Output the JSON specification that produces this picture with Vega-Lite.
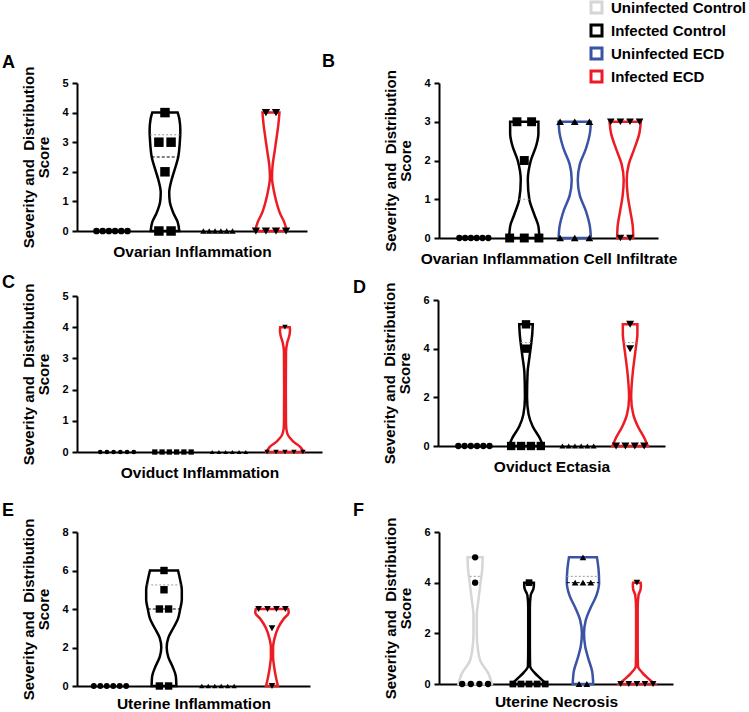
{
"$schema": "https://vega.github.io/schema/vega-lite/v6.json",
"background": "white",
"padding": {"left": 2, "top": 0, "right": 0, "bottom": 0},
"datasets": {
"pts": [
{"p":"A","g":"UC","v":0},{"p":"A","g":"UC","v":0},{"p":"A","g":"UC","v":0},{"p":"A","g":"UC","v":0},{"p":"A","g":"UC","v":0},{"p":"A","g":"UC","v":0},
{"p":"A","g":"IC","v":4},{"p":"A","g":"IC","v":3},{"p":"A","g":"IC","v":3},{"p":"A","g":"IC","v":2},{"p":"A","g":"IC","v":0},{"p":"A","g":"IC","v":0},
{"p":"A","g":"UE","v":0},{"p":"A","g":"UE","v":0},{"p":"A","g":"UE","v":0},{"p":"A","g":"UE","v":0},{"p":"A","g":"UE","v":0},{"p":"A","g":"UE","v":0},
{"p":"A","g":"IE","v":4},{"p":"A","g":"IE","v":4},{"p":"A","g":"IE","v":0},{"p":"A","g":"IE","v":0},{"p":"A","g":"IE","v":0},{"p":"A","g":"IE","v":0},
{"p":"B","g":"UC","v":0},{"p":"B","g":"UC","v":0},{"p":"B","g":"UC","v":0},{"p":"B","g":"UC","v":0},{"p":"B","g":"UC","v":0},{"p":"B","g":"UC","v":0},
{"p":"B","g":"IC","v":3},{"p":"B","g":"IC","v":3},{"p":"B","g":"IC","v":2},{"p":"B","g":"IC","v":0},{"p":"B","g":"IC","v":0},{"p":"B","g":"IC","v":0},
{"p":"B","g":"UE","v":3},{"p":"B","g":"UE","v":3},{"p":"B","g":"UE","v":3},{"p":"B","g":"UE","v":0},{"p":"B","g":"UE","v":0},{"p":"B","g":"UE","v":0},
{"p":"B","g":"IE","v":3},{"p":"B","g":"IE","v":3},{"p":"B","g":"IE","v":3},{"p":"B","g":"IE","v":3},{"p":"B","g":"IE","v":0},{"p":"B","g":"IE","v":0},
{"p":"C","g":"UC","v":0},{"p":"C","g":"UC","v":0},{"p":"C","g":"UC","v":0},{"p":"C","g":"UC","v":0},{"p":"C","g":"UC","v":0},{"p":"C","g":"UC","v":0},
{"p":"C","g":"IC","v":0},{"p":"C","g":"IC","v":0},{"p":"C","g":"IC","v":0},{"p":"C","g":"IC","v":0},{"p":"C","g":"IC","v":0},{"p":"C","g":"IC","v":0},
{"p":"C","g":"UE","v":0},{"p":"C","g":"UE","v":0},{"p":"C","g":"UE","v":0},{"p":"C","g":"UE","v":0},{"p":"C","g":"UE","v":0},{"p":"C","g":"UE","v":0},
{"p":"C","g":"IE","v":4},{"p":"C","g":"IE","v":0},{"p":"C","g":"IE","v":0},{"p":"C","g":"IE","v":0},{"p":"C","g":"IE","v":0},{"p":"C","g":"IE","v":0},
{"p":"D","g":"UC","v":0},{"p":"D","g":"UC","v":0},{"p":"D","g":"UC","v":0},{"p":"D","g":"UC","v":0},{"p":"D","g":"UC","v":0},{"p":"D","g":"UC","v":0},
{"p":"D","g":"IC","v":5},{"p":"D","g":"IC","v":4},{"p":"D","g":"IC","v":0},{"p":"D","g":"IC","v":0},{"p":"D","g":"IC","v":0},{"p":"D","g":"IC","v":0},
{"p":"D","g":"UE","v":0},{"p":"D","g":"UE","v":0},{"p":"D","g":"UE","v":0},{"p":"D","g":"UE","v":0},{"p":"D","g":"UE","v":0},{"p":"D","g":"UE","v":0},
{"p":"D","g":"IE","v":5},{"p":"D","g":"IE","v":4},{"p":"D","g":"IE","v":0},{"p":"D","g":"IE","v":0},{"p":"D","g":"IE","v":0},{"p":"D","g":"IE","v":0},
{"p":"E","g":"UC","v":0},{"p":"E","g":"UC","v":0},{"p":"E","g":"UC","v":0},{"p":"E","g":"UC","v":0},{"p":"E","g":"UC","v":0},{"p":"E","g":"UC","v":0},
{"p":"E","g":"IC","v":6},{"p":"E","g":"IC","v":5},{"p":"E","g":"IC","v":4},{"p":"E","g":"IC","v":4},{"p":"E","g":"IC","v":0},{"p":"E","g":"IC","v":0},
{"p":"E","g":"UE","v":0},{"p":"E","g":"UE","v":0},{"p":"E","g":"UE","v":0},{"p":"E","g":"UE","v":0},{"p":"E","g":"UE","v":0},{"p":"E","g":"UE","v":0},
{"p":"E","g":"IE","v":4},{"p":"E","g":"IE","v":4},{"p":"E","g":"IE","v":4},{"p":"E","g":"IE","v":4},{"p":"E","g":"IE","v":3},{"p":"E","g":"IE","v":0},
{"p":"F","g":"UC","v":5},{"p":"F","g":"UC","v":4},{"p":"F","g":"UC","v":0},{"p":"F","g":"UC","v":0},{"p":"F","g":"UC","v":0},{"p":"F","g":"UC","v":0},
{"p":"F","g":"IC","v":4},{"p":"F","g":"IC","v":0},{"p":"F","g":"IC","v":0},{"p":"F","g":"IC","v":0},{"p":"F","g":"IC","v":0},{"p":"F","g":"IC","v":0},
{"p":"F","g":"UE","v":5},{"p":"F","g":"UE","v":4},{"p":"F","g":"UE","v":4},{"p":"F","g":"UE","v":4},{"p":"F","g":"UE","v":0},{"p":"F","g":"UE","v":0},
{"p":"F","g":"IE","v":4},{"p":"F","g":"IE","v":0},{"p":"F","g":"IE","v":0},{"p":"F","g":"IE","v":0},{"p":"F","g":"IE","v":0},{"p":"F","g":"IE","v":0}
],
"vio": [
{"p":"A","g":"IC","v":0,"w":0.27},{"p":"A","g":"IC","v":0.3,"w":0.24},{"p":"A","g":"IC","v":0.6,"w":0.16},{"p":"A","g":"IC","v":1,"w":0.09},{"p":"A","g":"IC","v":1.3,"w":0.08},{"p":"A","g":"IC","v":1.7,"w":0.12},{"p":"A","g":"IC","v":2,"w":0.17},{"p":"A","g":"IC","v":2.5,"w":0.25},{"p":"A","g":"IC","v":3,"w":0.28},{"p":"A","g":"IC","v":3.4,"w":0.29},{"p":"A","g":"IC","v":3.8,"w":0.27},{"p":"A","g":"IC","v":4,"w":0.24},
{"p":"A","g":"IE","v":0,"w":0.30},{"p":"A","g":"IE","v":0.3,"w":0.25},{"p":"A","g":"IE","v":0.6,"w":0.17},{"p":"A","g":"IE","v":1,"w":0.10},{"p":"A","g":"IE","v":1.4,"w":0.05},{"p":"A","g":"IE","v":1.8,"w":0.02},{"p":"A","g":"IE","v":2.2,"w":0.03},{"p":"A","g":"IE","v":2.7,"w":0.07},{"p":"A","g":"IE","v":3.2,"w":0.11},{"p":"A","g":"IE","v":3.6,"w":0.14},{"p":"A","g":"IE","v":4,"w":0.16},
{"p":"B","g":"IC","v":0,"w":0.30},{"p":"B","g":"IC","v":0.3,"w":0.28},{"p":"B","g":"IC","v":0.6,"w":0.2},{"p":"B","g":"IC","v":1,"w":0.1},{"p":"B","g":"IC","v":1.5,"w":0.07},{"p":"B","g":"IC","v":2,"w":0.13},{"p":"B","g":"IC","v":2.4,"w":0.24},{"p":"B","g":"IC","v":2.7,"w":0.28},{"p":"B","g":"IC","v":3,"w":0.28},
{"p":"B","g":"UE","v":0,"w":0.32},{"p":"B","g":"UE","v":0.3,"w":0.3},{"p":"B","g":"UE","v":0.7,"w":0.22},{"p":"B","g":"UE","v":1.1,"w":0.1},{"p":"B","g":"UE","v":1.5,"w":0.06},{"p":"B","g":"UE","v":1.9,"w":0.1},{"p":"B","g":"UE","v":2.3,"w":0.22},{"p":"B","g":"UE","v":2.7,"w":0.3},{"p":"B","g":"UE","v":3,"w":0.32},
{"p":"B","g":"IE","v":0,"w":0.16},{"p":"B","g":"IE","v":0.3,"w":0.15},{"p":"B","g":"IE","v":0.7,"w":0.1},{"p":"B","g":"IE","v":1.1,"w":0.05},{"p":"B","g":"IE","v":1.5,"w":0.03},{"p":"B","g":"IE","v":1.9,"w":0.07},{"p":"B","g":"IE","v":2.3,"w":0.18},{"p":"B","g":"IE","v":2.7,"w":0.28},{"p":"B","g":"IE","v":3,"w":0.31},
{"p":"C","g":"IE","v":0,"w":0.33},{"p":"C","g":"IE","v":0.15,"w":0.28},{"p":"C","g":"IE","v":0.35,"w":0.14},{"p":"C","g":"IE","v":0.6,"w":0.04},{"p":"C","g":"IE","v":0.9,"w":0.018},{"p":"C","g":"IE","v":2,"w":0.015},{"p":"C","g":"IE","v":3.2,"w":0.018},{"p":"C","g":"IE","v":3.5,"w":0.04},{"p":"C","g":"IE","v":3.75,"w":0.08},{"p":"C","g":"IE","v":3.9,"w":0.09},{"p":"C","g":"IE","v":4,"w":0.085},
{"p":"D","g":"IC","v":0,"w":0.33},{"p":"D","g":"IC","v":0.3,"w":0.27},{"p":"D","g":"IC","v":0.8,"w":0.13},{"p":"D","g":"IC","v":1.3,"w":0.05},{"p":"D","g":"IC","v":2,"w":0.02},{"p":"D","g":"IC","v":3,"w":0.03},{"p":"D","g":"IC","v":3.7,"w":0.07},{"p":"D","g":"IC","v":4.2,"w":0.1},{"p":"D","g":"IC","v":4.6,"w":0.12},{"p":"D","g":"IC","v":5,"w":0.13},
{"p":"D","g":"IE","v":0,"w":0.34},{"p":"D","g":"IE","v":0.3,"w":0.28},{"p":"D","g":"IE","v":0.8,"w":0.15},{"p":"D","g":"IE","v":1.3,"w":0.06},{"p":"D","g":"IE","v":2,"w":0.02},{"p":"D","g":"IE","v":3,"w":0.05},{"p":"D","g":"IE","v":3.7,"w":0.09},{"p":"D","g":"IE","v":4.2,"w":0.12},{"p":"D","g":"IE","v":4.6,"w":0.14},{"p":"D","g":"IE","v":5,"w":0.14},
{"p":"E","g":"IC","v":0,"w":0.23},{"p":"E","g":"IC","v":0.5,"w":0.22},{"p":"E","g":"IC","v":1,"w":0.16},{"p":"E","g":"IC","v":1.5,"w":0.08},{"p":"E","g":"IC","v":2,"w":0.05},{"p":"E","g":"IC","v":2.5,"w":0.08},{"p":"E","g":"IC","v":3,"w":0.17},{"p":"E","g":"IC","v":3.5,"w":0.26},{"p":"E","g":"IC","v":4,"w":0.3},{"p":"E","g":"IC","v":4.5,"w":0.33},{"p":"E","g":"IC","v":5,"w":0.33},{"p":"E","g":"IC","v":5.5,"w":0.3},{"p":"E","g":"IC","v":6,"w":0.26},
{"p":"E","g":"IE","v":0,"w":0.11},{"p":"E","g":"IE","v":0.5,"w":0.07},{"p":"E","g":"IE","v":1,"w":0.04},{"p":"E","g":"IE","v":1.5,"w":0.02},{"p":"E","g":"IE","v":2,"w":0.02},{"p":"E","g":"IE","v":2.5,"w":0.05},{"p":"E","g":"IE","v":3,"w":0.11},{"p":"E","g":"IE","v":3.5,"w":0.22},{"p":"E","g":"IE","v":3.8,"w":0.31},{"p":"E","g":"IE","v":4,"w":0.30},
{"p":"F","g":"UC","v":0,"w":0.31},{"p":"F","g":"UC","v":0.4,"w":0.25},{"p":"F","g":"UC","v":0.9,"w":0.1},{"p":"F","g":"UC","v":1.4,"w":0.05},{"p":"F","g":"UC","v":2,"w":0.03},{"p":"F","g":"UC","v":2.7,"w":0.03},{"p":"F","g":"UC","v":3.3,"w":0.06},{"p":"F","g":"UC","v":4,"w":0.1},{"p":"F","g":"UC","v":4.5,"w":0.13},{"p":"F","g":"UC","v":5,"w":0.14},
{"p":"F","g":"IC","v":0,"w":0.32},{"p":"F","g":"IC","v":0.2,"w":0.22},{"p":"F","g":"IC","v":0.45,"w":0.1},{"p":"F","g":"IC","v":0.7,"w":0.02},{"p":"F","g":"IC","v":1.5,"w":0.015},{"p":"F","g":"IC","v":3,"w":0.015},{"p":"F","g":"IC","v":3.5,"w":0.03},{"p":"F","g":"IC","v":3.75,"w":0.08},{"p":"F","g":"IC","v":3.9,"w":0.09},{"p":"F","g":"IC","v":4,"w":0.09},
{"p":"F","g":"UE","v":0,"w":0.19},{"p":"F","g":"UE","v":0.5,"w":0.17},{"p":"F","g":"UE","v":1,"w":0.1},{"p":"F","g":"UE","v":1.5,"w":0.04},{"p":"F","g":"UE","v":2,"w":0.02},{"p":"F","g":"UE","v":2.5,"w":0.05},{"p":"F","g":"UE","v":3,"w":0.14},{"p":"F","g":"UE","v":3.5,"w":0.25},{"p":"F","g":"UE","v":4,"w":0.3},{"p":"F","g":"UE","v":4.5,"w":0.29},{"p":"F","g":"UE","v":5,"w":0.26},
{"p":"F","g":"IE","v":0,"w":0.33},{"p":"F","g":"IE","v":0.2,"w":0.22},{"p":"F","g":"IE","v":0.45,"w":0.1},{"p":"F","g":"IE","v":0.7,"w":0.02},{"p":"F","g":"IE","v":1.5,"w":0.015},{"p":"F","g":"IE","v":3,"w":0.015},{"p":"F","g":"IE","v":3.5,"w":0.03},{"p":"F","g":"IE","v":3.75,"w":0.07},{"p":"F","g":"IE","v":3.9,"w":0.075},{"p":"F","g":"IE","v":4,"w":0.07}
],
"med": [
{"p":"A","g":"IC","v":2.5,"w":0.25,"k":"med"},{"p":"A","g":"IC","v":3.25,"w":0.28,"k":"q"},
{"p":"B","g":"IC","v":1,"w":0.1,"k":"q"},
{"p":"D","g":"IC","v":4.25,"w":0.1,"k":"q"},{"p":"D","g":"IE","v":4.25,"w":0.12,"k":"q"},
{"p":"E","g":"IC","v":4,"w":0.3,"k":"med"},{"p":"E","g":"IC","v":5.25,"w":0.31,"k":"q"},
{"p":"F","g":"UC","v":4.25,"w":0.1,"k":"q"},{"p":"F","g":"UE","v":4,"w":0.3,"k":"med"},{"p":"F","g":"UE","v":4.25,"w":0.3,"k":"q"}
]
},
"vconcat": [
{"vconcat": [
{"hconcat": [
{"width": 230, "height": 148,
 "encoding": {
  "x": {"field": "xl", "type": "quantitative", "scale": {"domain": [0.34, 4.68], "nice": false, "zero": false}, "axis": {"title": "Ovarian Inflammation"}},
  "y": {"field": "v", "type": "quantitative", "scale": {"domain": [0, 5], "nice": false}, "axis": {"values": [0,1,2,3,4,5], "title": ["Severity and\u00a0 Distribution", "Score"]}}},
 "layer": [
  {"data": {"name": "vio"}, "transform": [{"filter": "datum.p=='A'"}, {"calculate": "indexof(['UC','IC','UE','IE'],datum.g)+1-datum.w", "as": "xl"}, {"calculate": "datum.xl+2*datum.w", "as": "xr"}],
   "mark": {"type": "area", "orient": "horizontal", "filled": false, "strokeWidth": 2.5, "interpolate": "monotone"},
   "encoding": {"x2": {"field": "xr"}, "color": {"field": "g", "type": "nominal", "title": null, "scale": {"domain": ["UC","IC","UE","IE"], "range": ["#d6d6d6","#000000","#3a53a4","#ed1c24"]}, "legend": {"symbolType": "square", "labelExpr": "datum.label=='UC'?'Uninfected Control':datum.label=='IC'?'Infected Control':datum.label=='UE'?'Uninfected ECD':'Infected ECD'"}}}},
  {"data": {"name": "med"}, "transform": [{"filter": "datum.p=='A' && datum.k=='med'"}, {"calculate": "indexof(['UC','IC','UE','IE'],datum.g)+1-datum.w", "as": "xl"}, {"calculate": "datum.xl+2*datum.w", "as": "xr"}],
   "mark": {"type": "rule", "color": "black", "strokeWidth": 1, "strokeDash": [3, 2]}, "encoding": {"x2": {"field": "xr"}}},
  {"data": {"name": "med"}, "transform": [{"filter": "datum.p=='A' && datum.k=='q'"}, {"calculate": "indexof(['UC','IC','UE','IE'],datum.g)+1-datum.w", "as": "xl"}, {"calculate": "datum.xl+2*datum.w", "as": "xr"}],
   "mark": {"type": "rule", "color": "#999999", "strokeWidth": 1, "strokeDash": [2, 2]}, "encoding": {"x2": {"field": "xr"}}},
  {"data": {"name": "pts"}, "transform": [{"filter": "datum.p=='A'"}, {"calculate": "indexof(['UC','IC','UE','IE'],datum.g)+1", "as": "gi"}, {"calculate": "['circle','square','triangle-up','triangle-down'][datum.gi-1]", "as": "sh"}, {"calculate": "[45,90,40,70][datum.gi-1]", "as": "sz"}, {"window": [{"op": "row_number", "as": "rn"}], "groupby": ["g","v"]}, {"joinaggregate": [{"op": "count", "as": "n"}], "groupby": ["g","v"]}, {"calculate": "datum.gi+(datum.rn-(datum.n+1)/2)*[0.117,0.23,0.11,0.19][datum.gi-1]", "as": "xl"}],
   "mark": {"type": "point", "filled": true, "color": "black", "opacity": 1},
   "encoding": {"shape": {"field": "sh", "type": "nominal", "scale": null}, "size": {"field": "sz", "type": "quantitative", "scale": null}}},
  {"data": {"values": [{"lab": "A"}]}, "transform": [{"calculate": "0.34", "as": "xl"}, {"calculate": "5", "as": "v"}],
   "mark": {"type": "text", "align": "left", "baseline": "alphabetic", "dx": -75, "dy": -15, "fontSize": 18, "fontWeight": "bold", "color": "black"},
   "encoding": {"text": {"field": "lab"}}}
 ]},
{"width": 219, "height": 155,
 "encoding": {
  "x": {"field": "xl", "type": "quantitative", "scale": {"domain": [0.31, 4.65], "nice": false, "zero": false}, "axis": {"title": "Ovarian Inflammation Cell Infiltrate"}},
  "y": {"field": "v", "type": "quantitative", "scale": {"domain": [0, 4], "nice": false}, "axis": {"values": [0,1,2,3,4], "title": ["Severity and\u00a0 Distribution", "Score"]}}},
 "layer": [
  {"data": {"name": "vio"}, "transform": [{"filter": "datum.p=='B'"}, {"calculate": "indexof(['UC','IC','UE','IE'],datum.g)+1-datum.w", "as": "xl"}, {"calculate": "datum.xl+2*datum.w", "as": "xr"}],
   "mark": {"type": "area", "orient": "horizontal", "filled": false, "strokeWidth": 2.5, "interpolate": "monotone"},
   "encoding": {"x2": {"field": "xr"}, "color": {"field": "g", "type": "nominal", "title": null, "scale": {"domain": ["UC","IC","UE","IE"], "range": ["#d6d6d6","#000000","#3a53a4","#ed1c24"]}, "legend": {"symbolType": "square", "labelExpr": "datum.label=='UC'?'Uninfected Control':datum.label=='IC'?'Infected Control':datum.label=='UE'?'Uninfected ECD':'Infected ECD'"}}}},
  {"data": {"name": "med"}, "transform": [{"filter": "datum.p=='B' && datum.k=='q'"}, {"calculate": "indexof(['UC','IC','UE','IE'],datum.g)+1-datum.w", "as": "xl"}, {"calculate": "datum.xl+2*datum.w", "as": "xr"}],
   "mark": {"type": "rule", "color": "#999999", "strokeWidth": 1, "strokeDash": [2, 2]}, "encoding": {"x2": {"field": "xr"}}},
  {"data": {"name": "pts"}, "transform": [{"filter": "datum.p=='B'"}, {"calculate": "indexof(['UC','IC','UE','IE'],datum.g)+1", "as": "gi"}, {"calculate": "['circle','square','triangle-up','triangle-down'][datum.gi-1]", "as": "sh"}, {"calculate": "[40,80,60,60][datum.gi-1]", "as": "sz"}, {"window": [{"op": "row_number", "as": "rn"}], "groupby": ["g","v"]}, {"joinaggregate": [{"op": "count", "as": "n"}], "groupby": ["g","v"]}, {"calculate": "datum.gi+(datum.rn-(datum.n+1)/2)*[0.115,0.29,0.29,0.19][datum.gi-1]", "as": "xl"}],
   "mark": {"type": "point", "filled": true, "color": "black", "opacity": 1},
   "encoding": {"shape": {"field": "sh", "type": "nominal", "scale": null}, "size": {"field": "sz", "type": "quantitative", "scale": null}}},
  {"data": {"values": [{"lab": "B"}]}, "transform": [{"calculate": "0.31", "as": "xl"}, {"calculate": "4", "as": "v"}],
   "mark": {"type": "text", "align": "left", "baseline": "alphabetic", "dx": -117, "dy": -16, "fontSize": 18, "fontWeight": "bold", "color": "black"},
   "encoding": {"text": {"field": "lab"}}}
 ]}
], "spacing": 132, "bounds": "flush"},
{"hconcat": [
{"width": 245, "height": 156,
 "encoding": {
  "x": {"field": "xl", "type": "quantitative", "scale": {"domain": [0.286, 4.661], "nice": false, "zero": false}, "axis": {"title": "Oviduct Inflammation"}},
  "y": {"field": "v", "type": "quantitative", "scale": {"domain": [0, 5], "nice": false}, "axis": {"values": [0,1,2,3,4,5], "title": ["Severity and\u00a0 Distribution", "Score"]}}},
 "layer": [
  {"data": {"name": "vio"}, "transform": [{"filter": "datum.p=='C'"}, {"calculate": "indexof(['UC','IC','UE','IE'],datum.g)+1-datum.w", "as": "xl"}, {"calculate": "datum.xl+2*datum.w", "as": "xr"}],
   "mark": {"type": "area", "orient": "horizontal", "filled": false, "strokeWidth": 2.5, "interpolate": "monotone"},
   "encoding": {"x2": {"field": "xr"}, "color": {"field": "g", "type": "nominal", "title": null, "scale": {"domain": ["UC","IC","UE","IE"], "range": ["#d6d6d6","#000000","#3a53a4","#ed1c24"]}, "legend": {"symbolType": "square", "labelExpr": "datum.label=='UC'?'Uninfected Control':datum.label=='IC'?'Infected Control':datum.label=='UE'?'Uninfected ECD':'Infected ECD'"}}}},
  {"data": {"name": "pts"}, "transform": [{"filter": "datum.p=='C'"}, {"calculate": "indexof(['UC','IC','UE','IE'],datum.g)+1", "as": "gi"}, {"calculate": "['circle','square','triangle-up','triangle-down'][datum.gi-1]", "as": "sh"}, {"calculate": "[22,28,22,30][datum.gi-1]", "as": "sz"}, {"window": [{"op": "row_number", "as": "rn"}], "groupby": ["g","v"]}, {"joinaggregate": [{"op": "count", "as": "n"}], "groupby": ["g","v"]}, {"calculate": "datum.gi+(datum.rn-(datum.n+1)/2)*[0.12,0.13,0.12,0.16][datum.gi-1]", "as": "xl"}],
   "mark": {"type": "point", "filled": true, "color": "black", "opacity": 1},
   "encoding": {"shape": {"field": "sh", "type": "nominal", "scale": null}, "size": {"field": "sz", "type": "quantitative", "scale": null}}},
  {"data": {"values": [{"lab": "C"}]}, "transform": [{"calculate": "0.286", "as": "xl"}, {"calculate": "5", "as": "v"}],
   "mark": {"type": "text", "align": "left", "baseline": "alphabetic", "dx": -75, "dy": -8, "fontSize": 18, "fontWeight": "bold", "color": "black"},
   "encoding": {"text": {"field": "lab"}}}
 ]},
{"width": 227, "height": 150,
 "encoding": {
  "x": {"field": "xl", "type": "quantitative", "scale": {"domain": [0.31, 4.67], "nice": false, "zero": false}, "axis": {"title": "Oviduct Ectasia"}},
  "y": {"field": "v", "type": "quantitative", "scale": {"domain": [0, 6], "nice": false, "range": [150, 4]}, "axis": {"values": [0,2,4,6], "title": ["Severity and\u00a0 Distribution", "Score"]}}},
 "layer": [
  {"data": {"name": "vio"}, "transform": [{"filter": "datum.p=='D'"}, {"calculate": "indexof(['UC','IC','UE','IE'],datum.g)+1-datum.w", "as": "xl"}, {"calculate": "datum.xl+2*datum.w", "as": "xr"}],
   "mark": {"type": "area", "orient": "horizontal", "filled": false, "strokeWidth": 2.5, "interpolate": "monotone"},
   "encoding": {"x2": {"field": "xr"}, "color": {"field": "g", "type": "nominal", "title": null, "scale": {"domain": ["UC","IC","UE","IE"], "range": ["#d6d6d6","#000000","#3a53a4","#ed1c24"]}, "legend": {"symbolType": "square", "labelExpr": "datum.label=='UC'?'Uninfected Control':datum.label=='IC'?'Infected Control':datum.label=='UE'?'Uninfected ECD':'Infected ECD'"}}}},
  {"data": {"name": "med"}, "transform": [{"filter": "datum.p=='D' && datum.k=='q'"}, {"calculate": "indexof(['UC','IC','UE','IE'],datum.g)+1-datum.w", "as": "xl"}, {"calculate": "datum.xl+2*datum.w", "as": "xr"}],
   "mark": {"type": "rule", "color": "#999999", "strokeWidth": 1, "strokeDash": [2, 2]}, "encoding": {"x2": {"field": "xr"}}},
  {"data": {"name": "pts"}, "transform": [{"filter": "datum.p=='D'"}, {"calculate": "indexof(['UC','IC','UE','IE'],datum.g)+1", "as": "gi"}, {"calculate": "['circle','square','triangle-up','triangle-down'][datum.gi-1]", "as": "sh"}, {"calculate": "[40,70,35,65][datum.gi-1]", "as": "sz"}, {"window": [{"op": "row_number", "as": "rn"}], "groupby": ["g","v"]}, {"joinaggregate": [{"op": "count", "as": "n"}], "groupby": ["g","v"]}, {"calculate": "datum.gi+(datum.rn-(datum.n+1)/2)*[0.12,0.19,0.12,0.18][datum.gi-1]", "as": "xl"}],
   "mark": {"type": "point", "filled": true, "color": "black", "opacity": 1},
   "encoding": {"shape": {"field": "sh", "type": "nominal", "scale": null}, "size": {"field": "sz", "type": "quantitative", "scale": null}}},
  {"data": {"values": [{"lab": "D"}]}, "transform": [{"calculate": "0.31", "as": "xl"}, {"calculate": "6", "as": "v"}],
   "mark": {"type": "text", "align": "left", "baseline": "alphabetic", "dx": -85, "dy": -7, "fontSize": 18, "fontWeight": "bold", "color": "black"},
   "encoding": {"text": {"field": "lab"}}}
 ]}
], "spacing": 116, "bounds": "flush"}
], "spacing": 7},
{"hconcat": [
{"width": 233, "height": 154,
 "encoding": {
  "x": {"field": "xl", "type": "quantitative", "scale": {"domain": [0.389, 4.704], "nice": false, "zero": false}, "axis": {"title": "Uterine Inflammation", "titlePadding": 10}},
  "y": {"field": "v", "type": "quantitative", "scale": {"domain": [0, 8], "nice": false}, "axis": {"values": [0,2,4,6,8], "title": ["Severity and\u00a0 Distribution", "Score"]}}},
 "layer": [
  {"data": {"name": "vio"}, "transform": [{"filter": "datum.p=='E'"}, {"calculate": "indexof(['UC','IC','UE','IE'],datum.g)+1-datum.w", "as": "xl"}, {"calculate": "datum.xl+2*datum.w", "as": "xr"}],
   "mark": {"type": "area", "orient": "horizontal", "filled": false, "strokeWidth": 2.5, "interpolate": "monotone"},
   "encoding": {"x2": {"field": "xr"}, "color": {"field": "g", "type": "nominal", "title": null, "scale": {"domain": ["UC","IC","UE","IE"], "range": ["#d6d6d6","#000000","#3a53a4","#ed1c24"]}, "legend": {"symbolType": "square", "labelExpr": "datum.label=='UC'?'Uninfected Control':datum.label=='IC'?'Infected Control':datum.label=='UE'?'Uninfected ECD':'Infected ECD'"}}}},
  {"data": {"name": "med"}, "transform": [{"filter": "datum.p=='E' && datum.k=='med'"}, {"calculate": "indexof(['UC','IC','UE','IE'],datum.g)+1-datum.w", "as": "xl"}, {"calculate": "datum.xl+2*datum.w", "as": "xr"}],
   "mark": {"type": "rule", "color": "black", "strokeWidth": 1, "strokeDash": [3, 2]}, "encoding": {"x2": {"field": "xr"}}},
  {"data": {"name": "med"}, "transform": [{"filter": "datum.p=='E' && datum.k=='q'"}, {"calculate": "indexof(['UC','IC','UE','IE'],datum.g)+1-datum.w", "as": "xl"}, {"calculate": "datum.xl+2*datum.w", "as": "xr"}],
   "mark": {"type": "rule", "color": "#999999", "strokeWidth": 1, "strokeDash": [2, 2]}, "encoding": {"x2": {"field": "xr"}}},
  {"data": {"name": "pts"}, "transform": [{"filter": "datum.p=='E'"}, {"calculate": "indexof(['UC','IC','UE','IE'],datum.g)+1", "as": "gi"}, {"calculate": "['circle','square','triangle-up','triangle-down'][datum.gi-1]", "as": "sh"}, {"calculate": "[35,55,30,45][datum.gi-1]", "as": "sz"}, {"window": [{"op": "row_number", "as": "rn"}], "groupby": ["g","v"]}, {"joinaggregate": [{"op": "count", "as": "n"}], "groupby": ["g","v"]}, {"calculate": "datum.gi+(datum.rn-(datum.n+1)/2)*[0.12,0.17,0.12,0.165][datum.gi-1]", "as": "xl"}],
   "mark": {"type": "point", "filled": true, "color": "black", "opacity": 1},
   "encoding": {"shape": {"field": "sh", "type": "nominal", "scale": null}, "size": {"field": "sz", "type": "quantitative", "scale": null}}},
  {"data": {"values": [{"lab": "E"}]}, "transform": [{"calculate": "0.389", "as": "xl"}, {"calculate": "8", "as": "v"}],
   "mark": {"type": "text", "align": "left", "baseline": "alphabetic", "dx": -75, "dy": -16, "fontSize": 18, "fontWeight": "bold", "color": "black"},
   "encoding": {"text": {"field": "lab"}}}
 ]},
{"width": 234, "height": 152,
 "encoding": {
  "x": {"field": "xl", "type": "quantitative", "scale": {"domain": [0.33, 4.67], "nice": false, "zero": false}, "axis": {"title": "Uterine Necrosis", "titlePadding": 10}},
  "y": {"field": "v", "type": "quantitative", "scale": {"domain": [0, 6], "nice": false}, "axis": {"values": [0,2,4,6], "title": ["Severity and\u00a0 Distribution", "Score"]}}},
 "layer": [
  {"data": {"name": "vio"}, "transform": [{"filter": "datum.p=='F'"}, {"calculate": "indexof(['UC','IC','UE','IE'],datum.g)+1-datum.w", "as": "xl"}, {"calculate": "datum.xl+2*datum.w", "as": "xr"}],
   "mark": {"type": "area", "orient": "horizontal", "filled": false, "strokeWidth": 2.5, "interpolate": "monotone"},
   "encoding": {"x2": {"field": "xr"}, "color": {"field": "g", "type": "nominal", "title": null, "scale": {"domain": ["UC","IC","UE","IE"], "range": ["#d6d6d6","#000000","#3a53a4","#ed1c24"]}, "legend": {"symbolType": "square", "labelExpr": "datum.label=='UC'?'Uninfected Control':datum.label=='IC'?'Infected Control':datum.label=='UE'?'Uninfected ECD':'Infected ECD'"}}}},
  {"data": {"name": "med"}, "transform": [{"filter": "datum.p=='F' && datum.k=='med'"}, {"calculate": "indexof(['UC','IC','UE','IE'],datum.g)+1-datum.w", "as": "xl"}, {"calculate": "datum.xl+2*datum.w", "as": "xr"}],
   "mark": {"type": "rule", "color": "black", "strokeWidth": 1, "strokeDash": [3, 2]}, "encoding": {"x2": {"field": "xr"}}},
  {"data": {"name": "med"}, "transform": [{"filter": "datum.p=='F' && datum.k=='q'"}, {"calculate": "indexof(['UC','IC','UE','IE'],datum.g)+1-datum.w", "as": "xl"}, {"calculate": "datum.xl+2*datum.w", "as": "xr"}],
   "mark": {"type": "rule", "color": "#999999", "strokeWidth": 1, "strokeDash": [2, 2]}, "encoding": {"x2": {"field": "xr"}}},
  {"data": {"name": "pts"}, "transform": [{"filter": "datum.p=='F'"}, {"calculate": "indexof(['UC','IC','UE','IE'],datum.g)+1", "as": "gi"}, {"calculate": "['circle','square','triangle-up','triangle-down'][datum.gi-1]", "as": "sh"}, {"calculate": "[40,45,45,45][datum.gi-1]", "as": "sz"}, {"window": [{"op": "row_number", "as": "rn"}], "groupby": ["g","v"]}, {"joinaggregate": [{"op": "count", "as": "n"}], "groupby": ["g","v"]}, {"calculate": "datum.gi+(datum.rn-(datum.n+1)/2)*[0.16,0.15,0.145,0.15][datum.gi-1]", "as": "xl"}],
   "mark": {"type": "point", "filled": true, "color": "black", "opacity": 1},
   "encoding": {"shape": {"field": "sh", "type": "nominal", "scale": null}, "size": {"field": "sz", "type": "quantitative", "scale": null}}},
  {"data": {"values": [{"lab": "F"}]}, "transform": [{"calculate": "0.33", "as": "xl"}, {"calculate": "6", "as": "v"}],
   "mark": {"type": "text", "align": "left", "baseline": "alphabetic", "dx": -86, "dy": -16, "fontSize": 18, "fontWeight": "bold", "color": "black"},
   "encoding": {"text": {"field": "lab"}}}
 ]}
], "spacing": 129, "bounds": "flush"}
],
"spacing": 21,
"config": {
 "font": "Liberation Sans",
 "view": {"stroke": null},
 "axis": {"grid": false, "domainColor": "black", "domainWidth": 2, "tickColor": "black", "tickWidth": 2, "tickSize": 5, "labelFontSize": 11, "labelFontWeight": "bold", "labelColor": "black", "titleFontWeight": "bold", "titleColor": "black", "labelFont": "Liberation Sans", "titleFont": "Liberation Sans"},
 "axisY": {"titleFontSize": 15, "titlePadding": 10, "labelPadding": 4, "titleLineHeight": 15},
 "axisX": {"ticks": false, "labels": false, "titleFontSize": 15.5, "titlePadding": 13},
 "legend": {"orient": "none", "legendX": 512, "legendY": -83, "symbolType": "square", "symbolSize": 121, "symbolStrokeWidth": 3, "symbolFillColor": "white", "labelFontSize": 15, "labelFontWeight": "bold", "labelFont": "Liberation Sans", "labelColor": "black", "rowPadding": 0, "labelOffset": 7, "padding": 0, "labelLimit": 200}
}
}
